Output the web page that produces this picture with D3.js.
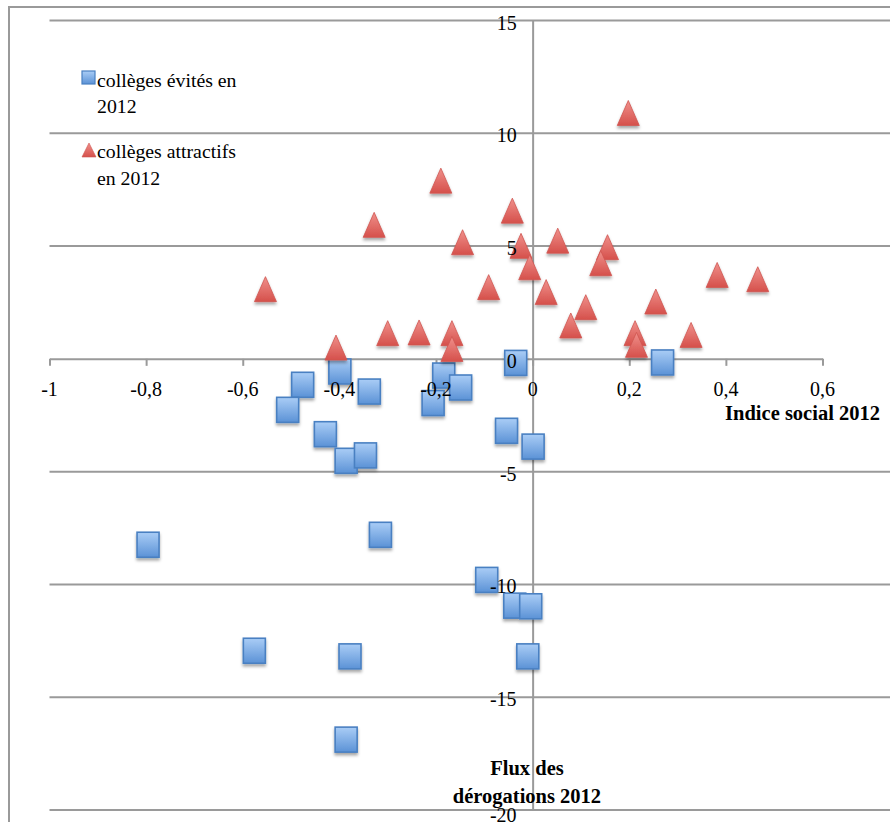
<!DOCTYPE html>
<html>
<head>
<meta charset="utf-8">
<script src="https://cdn.jsdelivr.net/npm/d3@7"></script>
<style>
  html, body { margin: 0; padding: 0; background: #fff; }
  svg { display: block; }
  text { font-family: "Liberation Serif", "Times New Roman", serif; fill: #000; }
</style>
</head>
<body>
<svg id="chart" width="890" height="822"></svg>
<script>
// Indice social (x) et flux des dérogations (y), 2012
const evitesX = [-0.035, 0.269, -0.399, -0.476, -0.184, -0.149, -0.338, -0.206, -0.507, -0.429, -0.054, 0.001,
                 -0.386, -0.346, -0.315, -0.796, -0.095, -0.037, -0.004, -0.576, -0.378, -0.010, -0.386];
const evitesY = [-0.18, -0.16, -0.56, -1.15, -0.74, -1.27, -1.45, -1.96, -2.26, -3.34, -3.19, -3.89,
                 -4.52, -4.28, -7.80, -8.24, -9.80, -10.94, -10.97, -12.94, -13.19, -13.19, -16.88];

const attractifsX = [0.198, -0.190, -0.328, -0.042, -0.145, -0.024, 0.052, 0.155, -0.006, 0.141, -0.553, -0.091, 0.028,
                     0.110, 0.255, 0.382, 0.466, 0.079, -0.407, -0.300, -0.235, -0.167, -0.167, 0.212, 0.215, 0.328];
const attractifsY = [10.9, 7.9, 5.94, 6.57, 5.17, 5.01, 5.24, 4.95, 4.06, 4.24, 3.09, 3.18, 2.96,
                     2.29, 2.54, 3.72, 3.53, 1.48, 0.50, 1.14, 1.17, 1.14, 0.44, 1.14, 0.62, 1.06];

const xTicks = [-1, -0.8, -0.6, -0.4, -0.2, 0, 0.2, 0.4, 0.6];
const xTickLabels = ["-1", "-0,8", "-0,6", "-0,4", "-0,2", "0", "0,2", "0,4", "0,6"];
const yTicks = [15, 10, 5, 0, -5, -10, -15, -20];
const yTickLabels = ["15", "10", "5", "0", "-5", "-10", "-15", "-20"];

const seriesNames = ["collèges évités en|2012", "collèges attractifs|en 2012"];
const xTitle = "Indice social 2012";
const yTitle = ["Flux des", "dérogations 2012"];

const svg = d3.select("#chart");
const W = 890, H = 822;
const grey = "#9a9a9a";

const x = d3.scaleLinear().domain([-1, 0.6]).range([49.5, 822.5]);
const y = d3.scaleLinear().domain([-20, 15]).range([810, 20.5]);

const defs = svg.append("defs");
const gBlue = defs.append("linearGradient").attr("id", "gBlue").attr("x1", 0).attr("y1", 0).attr("x2", 0).attr("y2", 1);
gBlue.append("stop").attr("offset", "0%").attr("stop-color", "#aacdf6");
gBlue.append("stop").attr("offset", "100%").attr("stop-color", "#5b92d6");
const gRed = defs.append("linearGradient").attr("id", "gRed").attr("x1", 0).attr("y1", 0).attr("x2", 0).attr("y2", 1);
gRed.append("stop").attr("offset", "0%").attr("stop-color", "#f0908b");
gRed.append("stop").attr("offset", "100%").attr("stop-color", "#d5504b");
const shadow = defs.append("filter").attr("id", "shadow").attr("x", "-30%").attr("y", "-30%").attr("width", "160%").attr("height", "170%");
shadow.append("feDropShadow").attr("dx", 0).attr("dy", 2.5).attr("stdDeviation", 1.4)
  .attr("flood-color", "#000").attr("flood-opacity", 0.35);

// frame
svg.append("rect").attr("width", W).attr("height", H).attr("fill", "#fff");
svg.append("path").attr("d", `M9,${H}V7H${W}`).attr("fill", "none").attr("stroke", grey).attr("stroke-width", 2);

// horizontal gridlines
svg.append("g").selectAll("line").data(yTicks.filter(v => v !== 0)).join("line")
  .attr("x1", x(-1)).attr("x2", W)
  .attr("y1", d => y(d)).attr("y2", d => y(d))
  .attr("stroke", grey).attr("stroke-width", 2);

// x axis (line + ticks)
const xAxis = svg.append("g").attr("transform", `translate(0,${y(0)})`)
  .call(d3.axisBottom(x).tickValues(xTicks).tickSize(7).tickSizeOuter(0).tickFormat(""));
xAxis.selectAll("path, line").attr("stroke", grey).attr("stroke-width", 2);

// y axis line
const yAxis = svg.append("g").attr("transform", `translate(${x(0)},0)`)
  .call(d3.axisLeft(y).tickValues(yTicks).tickSize(0).tickSizeOuter(0).tickFormat(""));
yAxis.selectAll("path, line").attr("stroke", grey).attr("stroke-width", 2);

// markers
const evites = evitesX.map((v, i) => ({x: v, y: evitesY[i]}));
const attractifs = attractifsX.map((v, i) => ({x: v, y: attractifsY[i]}));

const SQ_W = 22, SQ_H = 25, TR_W = 22, TR_H = 25;
svg.append("g").attr("filter", "url(#shadow)").selectAll("rect").data(evites).join("rect")
  .attr("x", d => x(d.x) - SQ_W / 2).attr("y", d => y(d.y) - SQ_H / 2)
  .attr("width", SQ_W).attr("height", SQ_H)
  .attr("fill", "url(#gBlue)").attr("stroke", "#4a80c2").attr("stroke-width", 1.6);

const tri = (cx, cy, w, h) => `M${cx},${cy - h / 2}L${cx + w / 2},${cy + h / 2}L${cx - w / 2},${cy + h / 2}Z`;
svg.append("g").attr("filter", "url(#shadow)").selectAll("path").data(attractifs).join("path")
  .attr("d", d => tri(x(d.x), y(d.y), TR_W, TR_H))
  .attr("fill", "url(#gRed)").attr("stroke", "#cf5550").attr("stroke-width", 0.8);

// tick labels (the lowest value label sits just under its gridline)
svg.append("g").selectAll("text").data(xTicks).join("text")
  .attr("x", d => x(d)).attr("y", y(0) + 37)
  .attr("text-anchor", "middle").attr("font-size", 20)
  .text((d, i) => xTickLabels[i]);

svg.append("g").selectAll("text").data(yTicks).join("text")
  .attr("x", x(0) - 16).attr("y", d => y(d) + (d === -20 ? 12 : 9))
  .attr("text-anchor", "end").attr("font-size", 20)
  .text((d, i) => yTickLabels[i]);

// axis titles
svg.append("text").attr("x", 880).attr("y", 419.5).attr("text-anchor", "end")
  .attr("font-size", 20.5).attr("font-weight", "bold").text(xTitle);
svg.append("g").selectAll("text").data(yTitle).join("text")
  .attr("x", 527).attr("y", (d, i) => 775 + i * 28).attr("text-anchor", "middle")
  .attr("font-size", 20.5).attr("font-weight", "bold").text(d => d);

// legend
const legend = svg.append("g");
legend.append("rect").attr("x", 82).attr("y", 71).attr("width", 13).attr("height", 13)
  .attr("fill", "url(#gBlue)").attr("stroke", "#4a80c2").attr("stroke-width", 1.2);
legend.append("path").attr("d", tri(89, 150, 14, 14)).attr("fill", "url(#gRed)").attr("stroke", "#cf5550").attr("stroke-width", 0.6);
const legendBaselines = [86.5, 158];
seriesNames.forEach((name, i) => {
  name.split("|").forEach((line, j) => {
    legend.append("text").attr("x", 97).attr("y", legendBaselines[i] + j * 26.5)
      .attr("font-size", 19.8).text(line);
  });
});
</script>
</body>
</html>
